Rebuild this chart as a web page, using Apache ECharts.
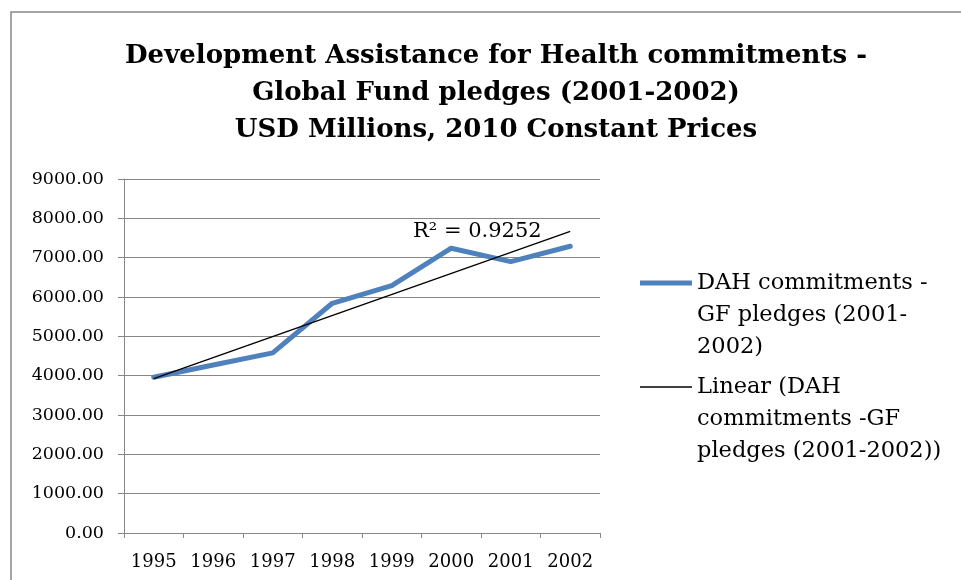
<!DOCTYPE html>
<html>
<head>
<meta charset="utf-8">
<script src="https://cdn.jsdelivr.net/npm/echarts@6/dist/echarts.min.js"></script>
<style>html,body{margin:0;padding:0;background:#fff;}#c{width:961px;height:580px;}</style>
</head>
<body>
<div id="c"></div>
<script>
const years = ['1995','1996','1997','1998','1999','2000','2001','2002'];
const dahValues = [3960, 4270, 4580, 5840, 6290, 7240, 6900, 7290];
// linear trendline endpoints (1995 and 2002)
const trendEnds = [3925, 7670];
const yTicks = [0, 1000, 2000, 3000, 4000, 5000, 6000, 7000, 8000, 9000];
const seriesName = 'DAH commitments - GF pledges (2001-2002)';
const trendName = 'Linear (DAH commitments -GF pledges (2001-2002))';
const legendLines = {};
legendLines[seriesName] = ['DAH commitments -', 'GF pledges (2001-', '2002)'];
legendLines[trendName] = ['Linear (DAH', 'commitments -GF', 'pledges (2001-2002))'];
const r2Text = 'R² = 0.9252';

const trendData = years.map((y, i) => i === 0 ? trendEnds[0] : (i === years.length - 1 ? trendEnds[1] : null));
const serif = '"DejaVu Serif", "Liberation Serif", serif';

const chart = echarts.init(document.getElementById('c'), null, {renderer: 'canvas'});
chart.setOption({
  backgroundColor: '#fff',
  animation: false,
  title: {
    text: 'Development Assistance for Health commitments -\nGlobal Fund pledges (2001-2002)\nUSD Millions, 2010 Constant Prices',
    left: 491, top: 33, textAlign: 'center',
    textStyle: {fontFamily: serif, fontWeight: 'bold', fontSize: 26, lineHeight: 37, color: '#000'}
  },
  grid: {left: 124, right: 361, top: 179, bottom: 47, containLabel: false},
  legend: {
    orient: 'vertical', left: 640, top: 203, itemGap: -56, padding: 0,
    itemWidth: 52, itemHeight: 5,
    data: [
      {name: seriesName, icon: 'rect', itemStyle: {color: '#4F81BD'}},
      {name: trendName, icon: 'path://M0,0H52V1.4H0Z', itemStyle: {color: '#000'}}
    ],
    // two blank lines first so that the first text line sits level with the icon
    formatter: n => '\n\n' + legendLines[n].join('\n'),
    textStyle: {fontFamily: serif, fontSize: 22.5, lineHeight: 32, color: '#000'}
  },
  xAxis: {
    type: 'category', data: years, boundaryGap: true,
    axisLine: {lineStyle: {color: '#868686', width: 1}},
    axisTick: {show: true, length: 5, interval: 0, lineStyle: {color: '#868686'}},
    axisLabel: {fontFamily: serif, fontSize: 18, color: '#000', margin: 20, interval: 0, hideOverlap: false}
  },
  yAxis: {
    type: 'value', min: yTicks[0], max: yTicks[yTicks.length - 1], interval: yTicks[1] - yTicks[0],
    axisLine: {show: true, lineStyle: {color: '#868686', width: 1}},
    axisTick: {show: true, length: 6, lineStyle: {color: '#868686'}},
    splitLine: {lineStyle: {color: '#868686', width: 1}},
    axisLabel: {fontFamily: serif, fontSize: 17.5, color: '#000', margin: 20, formatter: v => v.toFixed(2)}
  },
  series: [
    {name: seriesName, type: 'line', data: dahValues, symbol: 'none', z: 3,
     lineStyle: {color: '#4F81BD', width: 5, join: 'round', cap: 'round'}, itemStyle: {color: '#4F81BD'}},
    {name: trendName, type: 'line', data: trendData, connectNulls: true, symbol: 'none', z: 4,
     lineStyle: {color: '#000', width: 1.4}, itemStyle: {color: '#000'}}
  ],
  graphic: [
    {type: 'rect', shape: {x: 11, y: 12, width: 1200, height: 1200}, style: {fill: 'none', stroke: '#888', lineWidth: 1.5}, silent: true},
    {type: 'text', left: 413, top: 221, style: {text: r2Text, fontFamily: serif, fontSize: 21, fill: '#000'}}
  ]
});
</script>
</body>
</html>
